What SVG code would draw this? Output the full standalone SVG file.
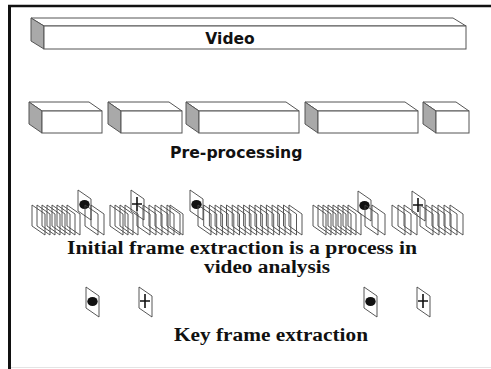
<svg xmlns="http://www.w3.org/2000/svg" xmlns:xlink="http://www.w3.org/1999/xlink" width="491" height="369" viewBox="0 0 491 369">
<style>
.face{fill:#fff;stroke:#555;stroke-width:1}
.side{fill:#a9a9a9;stroke:#555;stroke-width:1}
.fr{fill:none;stroke:#444;stroke-width:0.9}
.sans{font-family:"DejaVu Sans",sans-serif;font-weight:bold;fill:#111}
.serif{font-family:"Liberation Serif",serif;font-weight:bold;fill:#111}
.dot{fill:#111}
.plus{stroke:#111;stroke-width:1.6;fill:none}
</style>
<defs>
<path id="f" class="fr" d="M0,0 L13,9 L13,30 L0,21 Z"/>
<g id="fd"><use xlink:href="#f"/><ellipse class="dot" cx="6.5" cy="14.5" rx="5.2" ry="4.6"/></g>
<g id="fp"><use xlink:href="#f"/><path class="plus" d="M6,7 V21 M1,14 H11"/></g>
</defs>
<rect x="0" y="0" width="491" height="369" fill="#fff"/>
<g id="border">
<path d="M8,6 H491" stroke="#111" stroke-width="2.4" fill="none"/>
<path d="M9.5,5 V369" stroke="#111" stroke-width="3" fill="none"/>
<path d="M11,367.5 H491" stroke="#e4e4e4" stroke-width="1" fill="none"/>
</g>
<g id="video">
<polygon class="face" points="31,18 453,18 466,26 44,26"/>
<polygon class="side" points="31,18 44,26 44,49 31,41"/>
<rect class="face" x="44" y="26" width="422" height="23"/>
<text class="sans" x="230" y="43.5" font-size="15.5" text-anchor="middle">Video</text>
</g>
<g id="preprocessing">
<g id="box1"><polygon class="face" points="29,102 89,102 102,111 42,111"/><polygon class="side" points="29,102 42,111 42,133 29,124"/><rect class="face" x="42" y="111" width="60" height="22"/></g>
<g id="box2"><polygon class="face" points="108,102 169,102 182,111 121,111"/><polygon class="side" points="108,102 121,111 121,133 108,124"/><rect class="face" x="121" y="111" width="61" height="22"/></g>
<g id="box3"><polygon class="face" points="186,102 286,102 299,111 199,111"/><polygon class="side" points="186,102 199,111 199,133 186,124"/><rect class="face" x="199" y="111" width="100" height="22"/></g>
<g id="box4"><polygon class="face" points="305,102 405,102 418,111 318,111"/><polygon class="side" points="305,102 318,111 318,133 305,124"/><rect class="face" x="318" y="111" width="100" height="22"/></g>
<g id="box5"><polygon class="face" points="423,102 456,102 469,111 436,111"/><polygon class="side" points="423,102 436,111 436,133 423,124"/><rect class="face" x="436" y="111" width="33" height="22"/></g>
<text class="sans" x="170" y="158" font-size="15.7">Pre-processing</text>
</g>
<g id="initial-frames">
<g id="group1">
<use xlink:href="#f" x="32" y="205"/><use xlink:href="#f" x="37" y="205"/><use xlink:href="#f" x="42" y="205"/><use xlink:href="#f" x="47" y="205"/><use xlink:href="#f" x="52" y="205"/><use xlink:href="#f" x="57" y="205"/><use xlink:href="#f" x="62" y="205"/><use xlink:href="#f" x="67" y="205"/>
<use xlink:href="#fd" x="78" y="190"/>
<use xlink:href="#f" x="85" y="205"/><use xlink:href="#f" x="91" y="205"/>
</g>
<g id="group2">
<use xlink:href="#f" x="110" y="205"/><use xlink:href="#f" x="115" y="205"/><use xlink:href="#f" x="120" y="205"/><use xlink:href="#f" x="125" y="205"/>
<use xlink:href="#fp" x="131" y="190"/>
<use xlink:href="#f" x="137" y="205"/><use xlink:href="#f" x="143" y="205"/><use xlink:href="#f" x="149" y="205"/><use xlink:href="#f" x="155" y="205"/><use xlink:href="#f" x="161" y="205"/><use xlink:href="#f" x="167" y="205"/><use xlink:href="#f" x="170" y="205"/>
</g>
<g id="group3">
<use xlink:href="#fd" x="190" y="190"/>
<use xlink:href="#f" x="198" y="205"/><use xlink:href="#f" x="203.7" y="205"/><use xlink:href="#f" x="209.4" y="205"/><use xlink:href="#f" x="215.1" y="205"/><use xlink:href="#f" x="220.8" y="205"/><use xlink:href="#f" x="226.5" y="205"/><use xlink:href="#f" x="232.2" y="205"/><use xlink:href="#f" x="237.9" y="205"/><use xlink:href="#f" x="243.6" y="205"/><use xlink:href="#f" x="249.3" y="205"/><use xlink:href="#f" x="255" y="205"/><use xlink:href="#f" x="260.7" y="205"/><use xlink:href="#f" x="266.4" y="205"/><use xlink:href="#f" x="272.1" y="205"/><use xlink:href="#f" x="277.8" y="205"/><use xlink:href="#f" x="283.5" y="205"/><use xlink:href="#f" x="289" y="205"/>
</g>
<g id="group4">
<use xlink:href="#f" x="313" y="205"/><use xlink:href="#f" x="318" y="205"/><use xlink:href="#f" x="323" y="205"/><use xlink:href="#f" x="328" y="205"/><use xlink:href="#f" x="333" y="205"/><use xlink:href="#f" x="338" y="205"/><use xlink:href="#f" x="343" y="205"/><use xlink:href="#f" x="348" y="205"/>
<use xlink:href="#fd" x="358" y="191"/>
<use xlink:href="#f" x="365" y="205"/><use xlink:href="#f" x="372" y="205"/>
</g>
<g id="group5">
<use xlink:href="#f" x="392" y="205"/><use xlink:href="#f" x="398" y="205"/><use xlink:href="#f" x="404" y="205"/>
<use xlink:href="#fp" x="412" y="191"/>
<use xlink:href="#f" x="420" y="205"/><use xlink:href="#f" x="426" y="205"/><use xlink:href="#f" x="432" y="205"/><use xlink:href="#f" x="438" y="205"/><use xlink:href="#f" x="444" y="205"/><use xlink:href="#f" x="450" y="205"/>
</g>
<text class="serif" x="67" y="254" font-size="18" textLength="350" lengthAdjust="spacingAndGlyphs">Initial frame extraction is a process in</text>
<text class="serif" x="204" y="273" font-size="18" textLength="126" lengthAdjust="spacingAndGlyphs">video analysis</text>
</g>
<g id="key-frames">
<use xlink:href="#fd" x="86" y="287"/>
<use xlink:href="#fp" x="139" y="287"/>
<use xlink:href="#fd" x="364" y="287"/>
<use xlink:href="#fp" x="417" y="287"/>
<text class="serif" x="174" y="341" font-size="18" textLength="194" lengthAdjust="spacingAndGlyphs">Key frame extraction</text>
</g>
</svg>
